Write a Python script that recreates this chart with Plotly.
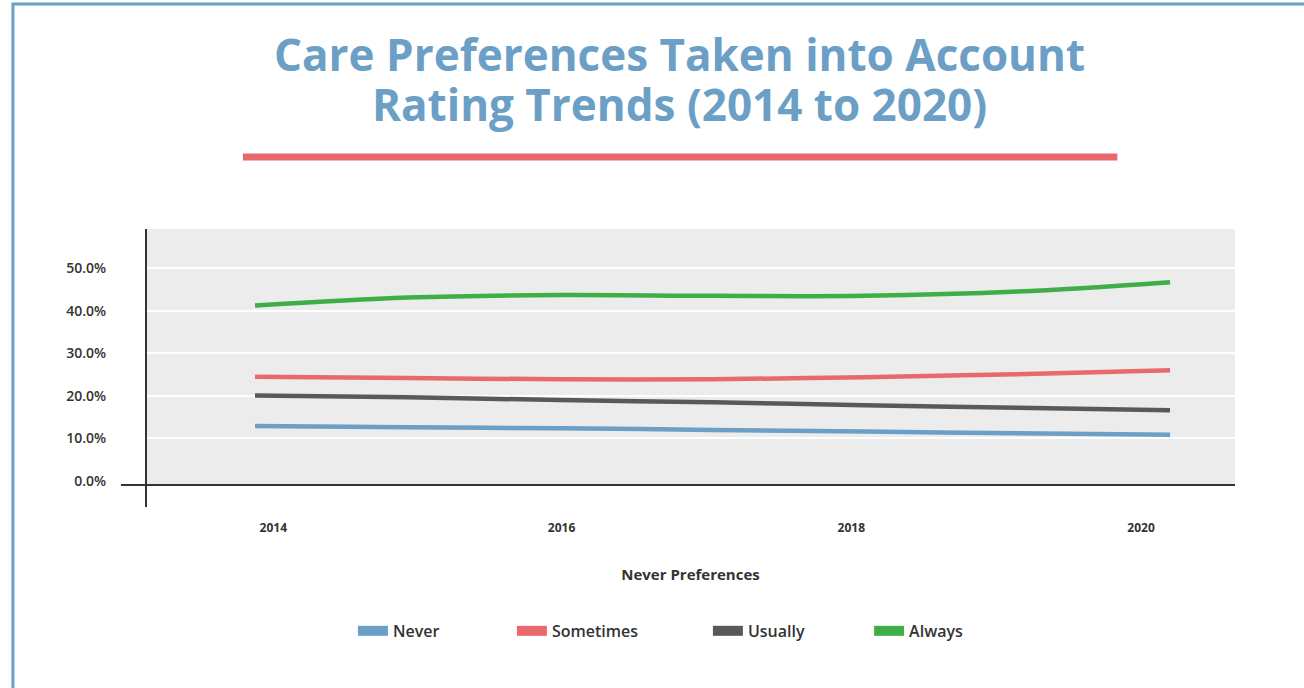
import plotly.graph_objects as go

years = [2014, 2015, 2016, 2017, 2018, 2019, 2020]
never = [12.9, 12.6, 12.4, 12.0, 11.6, 11.2, 10.85]
sometimes = [24.5, 24.2, 23.9, 23.9, 24.4, 25.1, 26.0]
usually = [20.1, 19.7, 19.0, 18.5, 17.8, 17.2, 16.6]
always = [41.2, 43.1, 43.7, 43.5, 43.5, 44.5, 46.7]

series_names = ["Never", "Sometimes", "Usually", "Always"]
series_values = [never, sometimes, usually, always]
colors = ["#6b9fc5", "#e8696b", "#58595b", "#3fae49"]

tick_years = [2014, 2016, 2018, 2020]
y_ticks = [0, 10, 20, 30, 40, 50]

title_lines = ["Care Preferences Taken into Account", "Rating Trends (2014 to 2020)"]

FONT = "Open Sans"

fig = go.Figure()
for name, vals, col in zip(series_names, series_values, colors):
    fig.add_trace(go.Scatter(
        x=years, y=vals, mode="lines", name=name,
        line=dict(color=col, width=4.5, shape="spline", smoothing=1.0),
        showlegend=False,
    ))

# one legend per entry so the irregular spacing of the reference can be matched
legend_ids = ["legend", "legend2", "legend3", "legend4"]
legend_x = [0.190, 0.336, 0.516, 0.664]
for name, col, lid in zip(series_names, colors, legend_ids):
    fig.add_trace(go.Scatter(
        x=[None], y=[None], mode="lines", name=name,
        line=dict(color=col, width=10),
        showlegend=True, legend=lid,
    ))

legend_style = dict(
    orientation="h", xanchor="left", xref="paper",
    y=-0.57, yanchor="middle",
    font=dict(family=FONT, size=16, color="#333333", weight=600),
    itemwidth=30, bgcolor="rgba(0,0,0,0)",
)
legend_layout = {lid: dict(legend_style, x=lx) for lid, lx in zip(legend_ids, legend_x)}

# x positions of tick labels (slightly offset from data years, as in the reference)
tick_pos = [2014.12, 2016.01, 2017.91, 2019.81]

title_font = dict(family=FONT, size=44, color="#6b9fc5", weight=700)

fig.update_layout(
    width=1304, height=688,
    margin=dict(l=146, r=69, t=229, b=203),
    paper_bgcolor="white",
    plot_bgcolor="#ececec",
    font=dict(family=FONT, color="#333333"),
    xaxis=dict(
        range=[2013.285, 2020.426],
        tickvals=tick_pos,
        ticktext=[str(y) for y in tick_years],
        showgrid=False, zeroline=False,
        showline=False,
        ticks="outside", ticklen=32, tickcolor="rgba(0,0,0,0)",
        tickfont=dict(family=FONT, size=12, color="#333333", weight=700),
        title=dict(text="Never Preferences",
                   font=dict(family=FONT, size=15, color="#333333", weight=700),
                   standoff=34),
        fixedrange=True,
    ),
    yaxis=dict(
        range=[-0.94, 59.2],
        tickvals=y_ticks,
        ticktext=[f"{v:.1f}%" for v in y_ticks],
        showgrid=True, gridcolor="white", gridwidth=2,
        zeroline=True, zerolinecolor="#ececec",
        showline=False,
        ticks="outside", ticklen=36, tickcolor="rgba(0,0,0,0)",
        tickfont=dict(family=FONT, size=14, color="#333333", weight=600),
        fixedrange=True,
    ),
    annotations=[
        dict(text=title_lines[0], xref="paper", yref="paper", x=0.49, y=1.685,
             xanchor="center", yanchor="middle", showarrow=False, font=title_font),
        dict(text=title_lines[1], xref="paper", yref="paper", x=0.49, y=1.488,
             xanchor="center", yanchor="middle", showarrow=False, font=title_font),
    ],
    shapes=[
        # page border
        dict(type="rect", xref="paper", yref="paper",
             x0=-0.1222, x1=1.08, y0=-0.85, y1=1.879,
             line=dict(color="#6b9fc5", width=3), fillcolor="rgba(0,0,0,0)", layer="below"),
        # red rule under title
        dict(type="line", xref="paper", yref="paper",
             x0=0.089, x1=0.892, y0=1.281, y1=1.281,
             line=dict(color="#e8696b", width=7)),
        # x axis line
        dict(type="line", xref="paper", yref="paper",
             x0=-0.023, x1=1.0, y0=0, y1=0,
             line=dict(color="#333333", width=2)),
        # y axis line
        dict(type="line", xref="paper", yref="paper",
             x0=0, x1=0, y0=-0.086, y1=1.0,
             line=dict(color="#333333", width=2)),
    ],
    **legend_layout,
)

fig.write_html("out.html", config={"displayModeBar": False},
               post_script="document.body.style.margin='0';")
